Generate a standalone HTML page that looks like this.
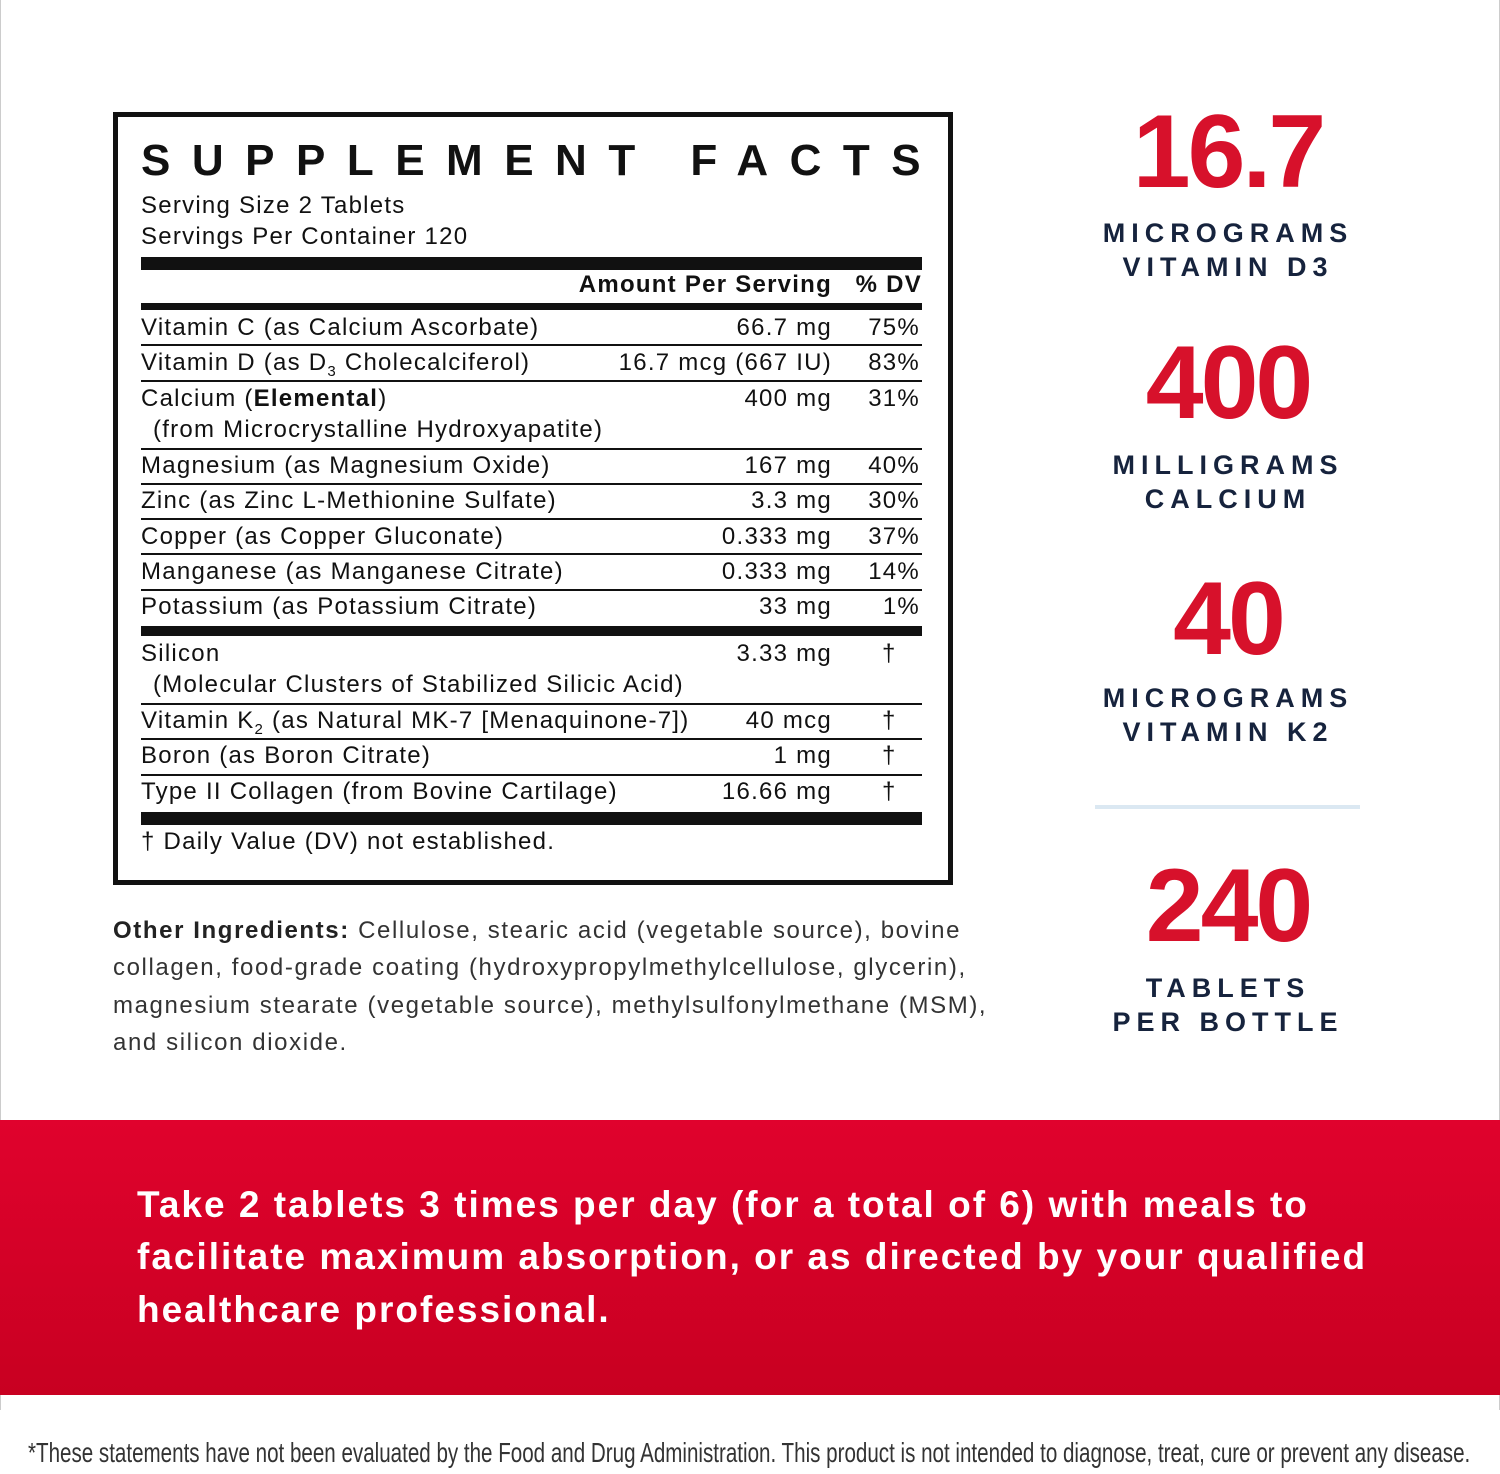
<!DOCTYPE html>
<html><head><meta charset="utf-8"><style>
body{margin:0;width:1500px;height:1474px;background:#fff;position:relative;overflow:hidden;font-family:"Liberation Sans",sans-serif}
.a{position:absolute;white-space:nowrap;line-height:30px;font-size:24px;color:#111;letter-spacing:1.25px}
.r{text-align:right}
.hl{position:absolute;left:141px;width:781px;background:#111}
.big{position:absolute;left:1078px;width:300px;text-align:center;color:#d7112b;font-weight:bold;font-size:104px;line-height:100px;letter-spacing:-3px}
.lab{position:absolute;left:1028px;width:400px;text-align:center;color:#16233d;font-weight:bold;font-size:27px;letter-spacing:6px;line-height:34px}
.oi{position:absolute;left:113px;font-size:24px;color:#333;line-height:30px;white-space:nowrap;letter-spacing:1.6px}
.dir{position:absolute;left:137px;color:#fff;font-weight:bold;font-size:37px;line-height:52px;white-space:nowrap;letter-spacing:2px}
</style></head><body>
<div style="position:absolute;left:0;top:0;width:1px;height:1410px;background:#ccc"></div>
<div style="position:absolute;right:0;top:0;width:1px;height:1410px;background:#ccc"></div>

<div style="position:absolute;left:113px;top:112px;width:830px;height:763px;border:5px solid #111"></div>
<div class="a" style="left:141px;top:141px;font-size:44px;line-height:40px;font-weight:bold;letter-spacing:21.5px">SUPPLEMENT FACTS</div>
<div class="a" style="left:141px;top:191px">Serving Size 2 Tablets</div>
<div class="a" style="left:141px;top:222px">Servings Per Container 120</div>
<div class="hl" style="top:257px;height:13px"></div>
<div class="a r" style="left:532px;width:300px;top:270px;font-weight:bold">Amount Per Serving</div>
<div class="a r" style="left:822px;width:100px;top:270px;font-weight:bold">% DV</div>
<div class="hl" style="top:303px;height:7px"></div>

<div class="a" style="left:141px;top:313px">Vitamin C (as Calcium Ascorbate)</div>
<div class="a r" style="left:532px;width:300px;top:313px">66.7 mg</div>
<div class="a r" style="left:822px;width:98px;top:313px">75%</div>
<div class="hl" style="top:344px;height:2px"></div>

<div class="a" style="left:141px;top:348px">Vitamin D (as D<sub style="font-size:15px">3</sub> Cholecalciferol)</div>
<div class="a r" style="left:532px;width:300px;top:348px">16.7 mcg (667 IU)</div>
<div class="a r" style="left:822px;width:98px;top:348px">83%</div>
<div class="hl" style="top:380px;height:2px"></div>

<div class="a" style="left:141px;top:384px">Calcium (<b>Elemental</b>)</div>
<div class="a" style="left:153px;top:415px">(from Microcrystalline Hydroxyapatite)</div>
<div class="a r" style="left:532px;width:300px;top:384px">400 mg</div>
<div class="a r" style="left:822px;width:98px;top:384px">31%</div>
<div class="hl" style="top:448px;height:2px"></div>

<div class="a" style="left:141px;top:451px">Magnesium (as Magnesium Oxide)</div>
<div class="a r" style="left:532px;width:300px;top:451px">167 mg</div>
<div class="a r" style="left:822px;width:98px;top:451px">40%</div>
<div class="hl" style="top:483px;height:2px"></div>

<div class="a" style="left:141px;top:486px">Zinc (as Zinc L-Methionine Sulfate)</div>
<div class="a r" style="left:532px;width:300px;top:486px">3.3 mg</div>
<div class="a r" style="left:822px;width:98px;top:486px">30%</div>
<div class="hl" style="top:518px;height:2px"></div>

<div class="a" style="left:141px;top:522px">Copper (as Copper Gluconate)</div>
<div class="a r" style="left:532px;width:300px;top:522px">0.333 mg</div>
<div class="a r" style="left:822px;width:98px;top:522px">37%</div>
<div class="hl" style="top:553px;height:2px"></div>

<div class="a" style="left:141px;top:557px">Manganese (as Manganese Citrate)</div>
<div class="a r" style="left:532px;width:300px;top:557px">0.333 mg</div>
<div class="a r" style="left:822px;width:98px;top:557px">14%</div>
<div class="hl" style="top:589px;height:2px"></div>

<div class="a" style="left:141px;top:592px">Potassium (as Potassium Citrate)</div>
<div class="a r" style="left:532px;width:300px;top:592px">33 mg</div>
<div class="a r" style="left:822px;width:98px;top:592px">1%</div>
<div class="hl" style="top:626px;height:10px"></div>

<div class="a" style="left:141px;top:639px">Silicon</div>
<div class="a" style="left:153px;top:670px">(Molecular Clusters of Stabilized Silicic Acid)</div>
<div class="a r" style="left:532px;width:300px;top:639px">3.33 mg</div>
<div class="a" style="left:882px;top:639px">†</div>
<div class="hl" style="top:703px;height:2px"></div>

<div class="a" style="left:141px;top:706px">Vitamin K<sub style="font-size:15px">2</sub> (as Natural MK-7 [Menaquinone-7])</div>
<div class="a r" style="left:532px;width:300px;top:706px">40 mcg</div>
<div class="a" style="left:882px;top:706px">†</div>
<div class="hl" style="top:738px;height:2px"></div>

<div class="a" style="left:141px;top:741px">Boron (as Boron Citrate)</div>
<div class="a r" style="left:532px;width:300px;top:741px">1 mg</div>
<div class="a" style="left:882px;top:741px">†</div>
<div class="hl" style="top:774px;height:2px"></div>

<div class="a" style="left:141px;top:777px">Type II Collagen (from Bovine Cartilage)</div>
<div class="a r" style="left:532px;width:300px;top:777px">16.66 mg</div>
<div class="a" style="left:882px;top:777px">†</div>
<div class="hl" style="top:812px;height:13px"></div>
<div class="a" style="left:141px;top:827px">† Daily Value (DV) not established.</div>

<div class="oi" style="top:916px"><b style="color:#222">Other Ingredients:</b> Cellulose, stearic acid (vegetable source), bovine</div>
<div class="oi" style="top:953px">collagen, food-grade coating (hydroxypropylmethylcellulose, glycerin),</div>
<div class="oi" style="top:991px">magnesium stearate (vegetable source), methylsulfonylmethane (MSM),</div>
<div class="oi" style="top:1028px">and silicon dioxide.</div>

<div class="big" style="top:102px">16.7</div>
<div class="lab" style="top:216px">MICROGRAMS<br>VITAMIN D3</div>
<div class="big" style="top:333px">400</div>
<div class="lab" style="top:448px">MILLIGRAMS<br>CALCIUM</div>
<div class="big" style="top:569px">40</div>
<div class="lab" style="top:681px">MICROGRAMS<br>VITAMIN K2</div>
<div style="position:absolute;left:1095px;top:805px;width:265px;height:4px;background:#dbe8f2"></div>
<div class="big" style="top:856px">240</div>
<div class="lab" style="top:971px">TABLETS<br>PER BOTTLE</div>

<div style="position:absolute;left:0;top:1120px;width:1500px;height:275px;background:linear-gradient(#e0022d,#c80021)"></div>
<div class="dir" style="top:1179px">Take 2 tablets 3 times per day (for a total of 6) with meals to</div>
<div class="dir" style="top:1231px">facilitate maximum absorption, or as directed by your qualified</div>
<div class="dir" style="top:1284px">healthcare professional.</div>

<div style="position:absolute;left:28px;top:1436px;font-size:28px;line-height:34px;color:#333;white-space:nowrap;transform-origin:0 0;transform:scaleX(0.735)">*These statements have not been evaluated by the Food and Drug Administration. This product is not intended to diagnose, treat, cure or prevent any disease.</div>
</body></html>
